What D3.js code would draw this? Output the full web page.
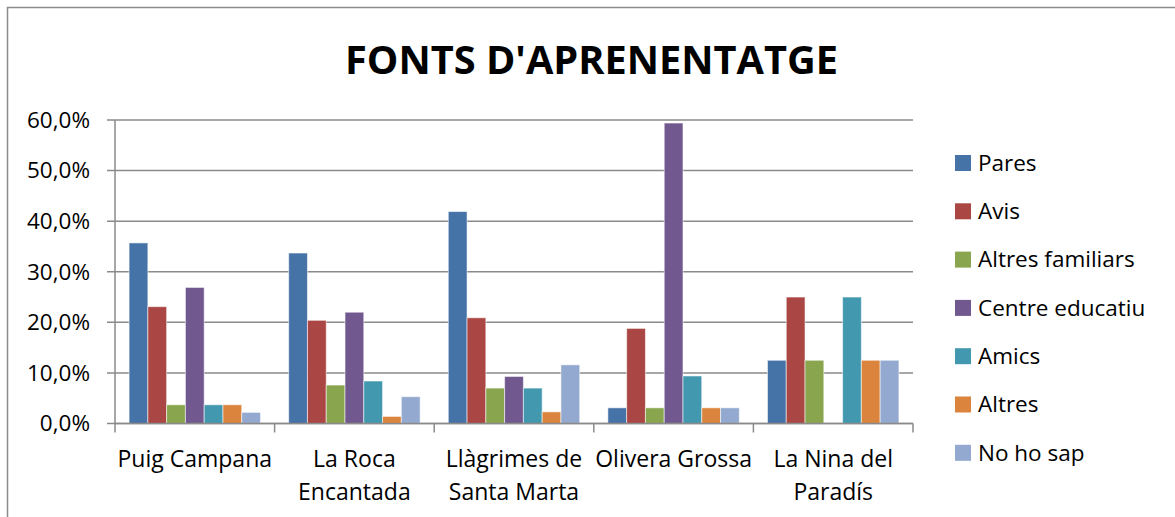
<!DOCTYPE html>
<html>
<head>
<meta charset="utf-8">
<script src="https://cdn.jsdelivr.net/npm/d3@7/dist/d3.min.js"></script>
<style>
  html, body { margin: 0; padding: 0; background: #fff; }
  svg { display: block; font-family: "Open Sans", sans-serif; }
</style>
</head>
<body>
<svg id="chart" width="1175" height="517"></svg>
<script>
const title = "FONTS D'APRENENTATGE";
const categories = ["Puig Campana", "La Roca\nEncantada", "Llàgrimes de\nSanta Marta", "Olivera Grossa", "La Nina del\nParadís"];
const seriesNames = ["Pares", "Avis", "Altres familiars", "Centre educatiu", "Amics", "Altres", "No ho sap"];
const pares          = [0.357, 0.337, 0.419, 0.031, 0.125];
const avis           = [0.231, 0.204, 0.209, 0.188, 0.250];
const altresFamiliars= [0.037, 0.076, 0.070, 0.031, 0.125];
const centreEducatiu = [0.269, 0.220, 0.093, 0.594, 0.000];
const amics          = [0.037, 0.084, 0.070, 0.094, 0.250];
const altres         = [0.037, 0.014, 0.023, 0.031, 0.125];
const noHoSap        = [0.022, 0.053, 0.116, 0.031, 0.125];
const seriesValues = [pares, avis, altresFamiliars, centreEducatiu, amics, altres, noHoSap];
const yTicks = [0, 0.1, 0.2, 0.3, 0.4, 0.5, 0.6];
const colors = ["#4572A7", "#AA4643", "#89A54E", "#71588F", "#4198AF", "#DB843D", "#93A9CF"];

const svg = d3.select("#chart");
const locale = d3.formatLocale({decimal: ",", thousands: ".", grouping: [3], currency: ["", "€"]});
const fmt = locale.format(".1%");

// outer border (left and top visible)
svg.append("path")
  .attr("d", "M7.5,517 L7.5,7.5 L1175,7.5")
  .attr("fill", "none").attr("stroke", "#8c8c8c").attr("stroke-width", 1.5);

const pLeft = 115, pRight = 913, pTop = 120, pBottom = 423.5;
const x0 = d3.scaleBand().domain(categories).range([pLeft, pRight]).paddingInner(0).paddingOuter(0);
const x1 = d3.scaleBand().domain(seriesNames).range([0, x0.bandwidth()]).paddingInner(0).paddingOuter(0.75);
const y = d3.scaleLinear().domain([0, 0.6]).range([pBottom, pTop]);

// gridlines
svg.append("g").selectAll("line").data(yTicks).join("line")
  .attr("x1", pLeft - 8).attr("x2", pRight)
  .attr("y1", d => y(d)).attr("y2", d => y(d))
  .attr("stroke", "#8a8a8a").attr("stroke-width", 1.5);

// y axis line
svg.append("line").attr("x1", pLeft).attr("x2", pLeft).attr("y1", pTop).attr("y2", pBottom)
  .attr("stroke", "#8a8a8a").attr("stroke-width", 1.5);

// y tick labels
svg.append("g").selectAll("text").data(yTicks).join("text")
  .attr("x", 90).attr("y", d => y(d)).attr("dy", "0.35em")
  .attr("text-anchor", "end").attr("font-size", 22.5).attr("fill", "#000")
  .text(d => fmt(d));

// bars
const groups = svg.append("g").selectAll("g").data(categories).join("g")
  .attr("transform", d => `translate(${x0(d)},0)`);
groups.selectAll("rect").data((c, ci) => seriesNames.map((s, si) => ({s, si, v: seriesValues[si][ci]})))
  .join("rect")
  .attr("x", d => x1(d.s)).attr("width", x1.bandwidth())
  .attr("y", d => y(d.v)).attr("height", d => y(0) - y(d.v))
  .attr("fill", d => colors[d.si])
  .attr("stroke", d => d.v > 0 ? "#ffffff" : "none").attr("stroke-opacity", 0.55).attr("stroke-width", 1);

// x axis line & ticks
svg.append("line").attr("x1", pLeft).attr("x2", pRight).attr("y1", pBottom).attr("y2", pBottom)
  .attr("stroke", "#8a8a8a").attr("stroke-width", 1.5);
const boundaries = categories.map(c => x0(c)).concat([x0(categories[categories.length - 1]) + x0.bandwidth()]);
svg.append("g").selectAll("line").data(boundaries).join("line")
  .attr("x1", d => d).attr("x2", d => d).attr("y1", pBottom).attr("y2", pBottom + 9)
  .attr("stroke", "#8a8a8a").attr("stroke-width", 1.5);

// x labels
const xl = svg.append("g").selectAll("text").data(categories).join("text")
  .attr("x", d => x0(d) + x0.bandwidth() / 2).attr("y", 467)
  .attr("text-anchor", "middle").attr("font-size", 23).attr("fill", "#000");
xl.each(function(d) {
  const lines = d.split("\n");
  d3.select(this).selectAll("tspan").data(lines).join("tspan")
    .attr("x", x0(d) + x0.bandwidth() / 2)
    .attr("dy", (l, i) => i === 0 ? 0 : 33)
    .text(l => l);
});

// legend
const lg = svg.append("g").selectAll("g").data(seriesNames).join("g")
  .attr("transform", (d, i) => `translate(955,${163 + i * 48.3})`);
lg.append("rect").attr("x", 0).attr("y", -8).attr("width", 16).attr("height", 16)
  .attr("fill", (d, i) => colors[i]);
lg.append("text").attr("x", 23).attr("y", 0).attr("dy", "0.35em")
  .attr("font-size", 22.5).attr("fill", "#000").text(d => d);

// title
const t = svg.append("text").attr("x", 591.5).attr("y", 74)
  .attr("text-anchor", "middle").attr("font-size", 42).attr("font-weight", "bold").attr("fill", "#000")
  .text(title);
const tw = t.node().getComputedTextLength();
if (tw > 0) t.attr("font-size", 42 * 493 / tw);
</script>
</body>
</html>
